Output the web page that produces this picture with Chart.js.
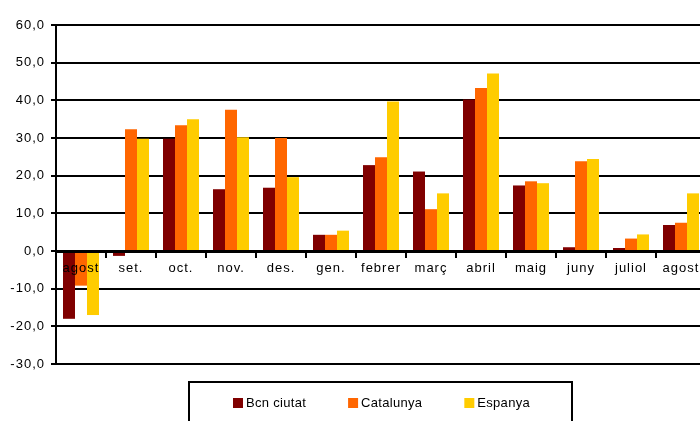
<!DOCTYPE html>
<html>
<head>
<meta charset="utf-8">
<script src="https://cdn.jsdelivr.net/npm/chart.js@4.4.1/dist/chart.umd.min.js"></script>
<style>
html, body { margin:0; padding:0; overflow:hidden; background:#fff; }
canvas { display:block; }
</style>
</head>
<body>
<canvas id="chart" width="720" height="421"></canvas>
<script>
//data

const months = ['agost','set.','oct.','nov.','des.','gen.','febrer','març','abril','maig','juny','juliol','agost'];
const bcnCiutat = [-18.0, -1.3, 29.8, 16.4, 16.8, 4.3, 22.8, 21.1, 40.2, 17.4, 1.0, 0.8, 6.9];
const catalunya = [-9.2, 32.3, 33.4, 37.5, 30.0, 4.3, 24.9, 11.1, 43.3, 18.5, 23.8, 3.3, 7.5];
const espanya = [-17.0, 29.8, 35.0, 30.2, 19.6, 5.4, 39.7, 15.3, 47.1, 18.0, 24.4, 4.4, 15.3];
const seriesNames = ['Bcn ciutat', 'Catalunya', 'Espanya'];
const seriesColors = ['#800000', '#FF6600', '#FFCC00'];

const fontFamily = '"Liberation Sans", Arial, sans-serif';

//legend in a box under the plot
const boxLegend = {
	id: 'boxLegend',
	beforeDraw(chart){
		chart.ctx.letterSpacing = '1px';
	},
	afterDraw(chart){
		const c = chart.ctx;
		c.save();
		c.letterSpacing = '0.3px';
		c.strokeStyle = '#000';
		c.lineWidth = 2;
		c.strokeRect(189, 382, 383, 60);
		c.font = '13px ' + fontFamily;
		c.textBaseline = 'middle';
		let x = 233;
		chart.data.datasets.forEach(function(ds){
			c.fillStyle = ds.backgroundColor;
			c.fillRect(x, 398, 10, 10);
			c.fillStyle = '#000';
			c.fillText(ds.label, x + 13, 403);
			x += 13 + c.measureText(ds.label).width + 42;
		});
		c.restore();
	}
};

const ctx = document.getElementById('chart');

const barChart = new Chart(ctx, {
	type: 'bar',
	data: {
		labels: months,
		datasets: [
			{ label: seriesNames[0], data: bcnCiutat, backgroundColor: seriesColors[0] },
			{ label: seriesNames[1], data: catalunya, backgroundColor: seriesColors[1] },
			{ label: seriesNames[2], data: espanya, backgroundColor: seriesColors[2] }
		]
	},
	options: {
		responsive: false,
		animation: false,
		devicePixelRatio: 1,
		categoryPercentage: 0.72,
		barPercentage: 1,
		layout: {
			padding: { top: 25, right: 14, bottom: 57, left: 0 }
		},
		plugins: {
			legend: { display: false },
			tooltip: { enabled: false }
		},
		scales: {
			x: {
				position: { y: 0 },
				grid: {
					drawOnChartArea: false,
					drawTicks: true,
					tickLength: 5,
					color: '#000',
					lineWidth: 2,
					z: 1
				},
				border: { display: true, color: '#000', width: 3, z: 1 },
				ticks: {
					color: '#000',
					font: { family: fontFamily, size: 13 },
					padding: 5,
					autoSkip: false,
					maxRotation: 0,
					z: 1
				}
			},
			y: {
				min: -30,
				max: 60,
				afterFit(scale){
					scale.width = 56;
				},
				grid: {
					color: '#000',
					lineWidth: 2,
					tickLength: 5
				},
				border: { display: true, color: '#000', width: 2 },
				ticks: {
					stepSize: 10,
					color: '#000',
					padding: 6,
					font: { family: fontFamily, size: 13 },
					callback: function(v){
						return v.toFixed(1).replace('.', ',');
					}
				}
			}
		}
	},
	plugins: [boxLegend]
});
</script>
</body>
</html>
